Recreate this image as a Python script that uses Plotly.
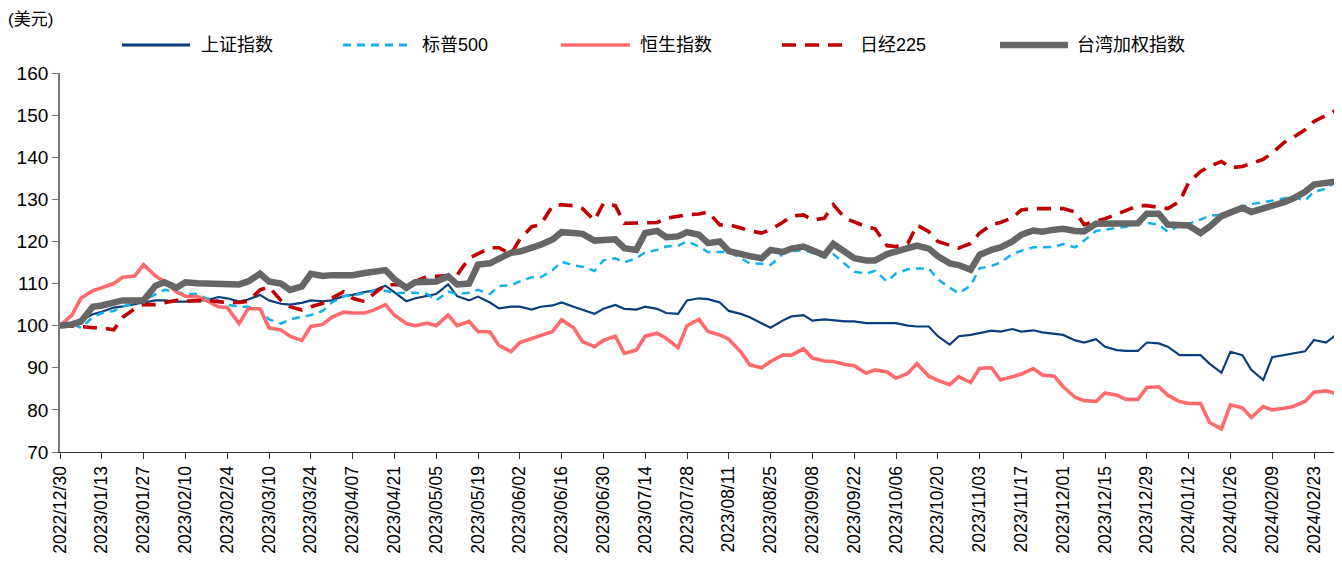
import pandas as pd
import plotly.graph_objects as go

# ---------------- data (semi-weekly samples: Fridays and the following Tuesdays) ----------------
start = pd.Timestamp("2022-12-30")
dates = []
for k in range(62):
    f = start + pd.Timedelta(days=7 * k)
    dates.append(f)
    if k < 61:
        dates.append(f + pd.Timedelta(days=4))

shanghai = [
    100, 100.5, 101.3, 102.7, 103.3, 104.3, 104.6, 105.2, 105.5, 106,
    106, 105.7, 105.7, 106, 106, 106.8, 106.5, 105.7, 106.2, 107.3,
    106, 105.2, 105, 105.4, 106, 105.8, 106, 107, 107.3, 108,
    108.3, 109.5, 108, 105.8, 106.5, 107, 107.5, 109.8, 107, 106,
    106.9, 105.5, 104.1, 104.5, 104.5, 103.8, 104.5, 104.8, 105.5, 104.5,
    103.7, 102.8, 104, 104.9, 104, 103.8, 104.5, 104, 103, 102.8,
    106, 106.5, 106.3, 105.5, 103.5, 102.8, 102, 100.5, 99.5, 101.2,
    102.2, 102.5, 101.2, 101.5, 101.3, 101, 101, 100.6, 100.6, 100.6,
    100.6, 100, 99.8, 99.8, 97.5, 95.5, 97.5, 97.8, 98.2, 98.8,
    98.6, 99.2, 98.6, 98.9, 98.4, 98, 97.8, 96.5, 96, 96.8,
    95, 94.2, 94, 94, 96, 95.8, 95, 93, 93, 93,
    91, 88.8, 93.8, 93, 89.5, 87.1, 92.5, 93, 93.4, 93.9,
    96.6, 96, 97.6,
]

sp500 = [
    100, 100.5, 99.5, 102, 103, 103.5, 104.5, 105.5, 106, 107.5,
    108.5, 108, 107.5, 107.5, 106.5, 106, 105, 104.5, 104.5, 104,
    101.5, 100.5, 101.5, 102.1, 102.5, 103.5, 105.5, 107, 107.2, 107.7,
    108.2, 108.3, 107.7, 107.8, 107.8, 107.5, 106, 108.1, 107.5, 107.8,
    108.5, 107.5, 109.4, 109.6, 110.5, 111.5, 111.5, 113.2, 115.2, 114.3,
    114, 113, 115.5, 116, 115, 116, 117.4, 118, 118.8, 119,
    120, 118.8, 117.5, 117.5, 117.5, 116, 114.8, 114.7, 114.4, 117,
    117.6, 118, 117.3, 116.2, 117, 114.5, 112.8, 112.4, 113, 110.5,
    112.4, 113.4, 113.6, 113.6, 111, 109, 107.7, 109.5, 113.6, 114.2,
    115, 117, 117.8, 118.6, 118.6, 118.7, 119.4, 118.6, 120.2, 122.5,
    122.8, 123.2, 123.5, 124.2, 124.4, 124, 122.3, 123.8, 124.2, 125.2,
    126.1, 126.3, 127.3, 128.3, 128.9, 129.3, 129.7, 130.3, 130.6, 129.7,
    131.8, 132.5, 134,
]

hangseng = [
    100, 102.5, 106.5, 108.3, 109, 110, 111.5, 111.8, 114.5, 111.8,
    110.5, 108, 107, 106.9, 106, 104.5, 104.3, 100.5, 104, 104,
    99.5, 99, 97.5, 96.5, 99.8, 100.3, 102, 103.2, 103, 103,
    103.7, 105, 102.5, 100.5, 100, 100.6, 100, 102.5, 100, 101,
    98.6, 98.5, 95.3, 93.8, 96, 97, 97.8, 98.6, 101.4, 99.5,
    96.2, 95, 96.5, 97.5, 93.4, 94.2, 97.5, 98.2, 97, 94.8,
    100, 101.5, 98.6, 97.8, 96.8, 93.8, 90.7, 90, 91.5, 93,
    93, 94.5, 92.3, 91.6, 91.5, 90.8, 90.5, 88.7, 89.5, 89,
    87.5, 88.7, 91, 88, 87, 86, 87.9, 86.5, 89.9, 90,
    87.1, 87.8, 88.5, 89.8, 88.3, 88, 85.5, 83, 82.2, 82,
    84, 83.5, 82.5, 82.5, 85.3, 85.5, 83.5, 82, 81.5, 81.5,
    77, 75.5, 81.2, 80.5, 78.2, 80.8, 80, 80.4, 80.8, 82,
    84.2, 84.5, 84,
]

nikkei = [
    100, 100, 99.8, 99.5, 99.5, 99, 102, 104, 105, 105,
    105.5, 106, 105.8, 106, 106, 105.7, 105.5, 105.5, 105.8, 108.5,
    109.2, 106, 104.5, 103.7, 104.5, 105.3, 106.5, 108.1, 106.5, 105.7,
    107.5, 109.7, 109.7, 109.7, 110.5, 111.7, 111.7, 111.8, 112, 116,
    117, 118.5, 118.5, 117, 120.5, 123.5, 124, 128.5, 128.7, 128.5,
    127.8, 125, 129, 128.5, 124.3, 124.3, 124.3, 124.5, 125.5, 126,
    126.3, 126.5, 127, 123.9, 124, 123.2, 122.5, 122, 122.8, 124.5,
    126, 126.3, 125.1, 125.5, 128.7, 125.5, 124.7, 123.5, 123, 119,
    118.8, 119.5, 123.9, 122.3, 120, 119.2, 118.4, 119.5, 122, 124,
    124.5, 125.6, 127.5, 127.8, 127.8, 127.8, 127.8, 127, 124, 124.8,
    125.4, 126.5, 127.3, 128.5, 128.5, 128, 127.8, 129.5, 134, 136.6,
    137.8, 139, 137.5, 137.8, 138.5, 139.5, 141, 143.5, 144.7, 146.5,
    148.5, 150, 151,
]

taiwan = [
    100, 100.3, 101, 104.5, 104.8, 105.7, 106, 106, 106, 109.5,
    110.3, 109, 110.3, 110.1, 110, 110, 109.8, 109.8, 110.5, 112.3,
    110.5, 110, 108.5, 109.3, 112.3, 111.8, 112, 112, 112, 112.5,
    112.8, 113.2, 111, 109, 110.3, 110.5, 110.5, 111.7, 109.8, 110,
    114.5, 114.8, 116, 117.3, 117.6, 118.5, 119.2, 120.5, 122.2, 122,
    121.8, 120.2, 120.3, 120.5, 118.4, 118, 122, 122.5, 121, 121.2,
    122.2, 121.6, 119.6, 120, 117.7, 116.8, 116.5, 116, 118, 117.5,
    118.3, 118.8, 118, 116.7, 119.4, 117.6, 116, 115.5, 115.5, 117,
    117.6, 118.5, 119, 118.3, 116.5, 114.8, 114.4, 113.3, 116.8, 118,
    118.6, 120, 121.6, 122.6, 122.3, 122.8, 123, 122.5, 122.4, 124.2,
    124.3, 124.2, 124.2, 124.3, 126.6, 126.6, 124, 124, 123.8, 122,
    123.5, 126, 127, 128, 127, 127.8, 128.1, 129.3, 130.2, 131.8,
    133.5, 133.7, 134.2,
]

series_names = ["上证指数", "标普500", "恒生指数", "日经225", "台湾加权指数"]
series_values = [shanghai, sp500, hangseng, nikkei, taiwan]

# ---------------- styles ----------------
styles = [
    dict(color="#0B3C7D", width=2.2, dash="solid"),
    dict(color="#12B0EC", width=2.5, dash="8px,6px"),
    dict(color="#FF6B6B", width=3.6, dash="solid"),
    dict(color="#C00000", width=3.6, dash="14px,9px"),
    dict(color="#666666", width=6.5, dash="solid"),
]

# page is rendered with an 8px body margin, so the figure is sized/offset to compensate
OFF = 8
PAGE_W, PAGE_H = 1342, 561
PL, PR, PT, PB = 60, 1340, 73, 452          # plot-area edges in page pixels
W, H = PAGE_W - OFF, PAGE_H - OFF
L, R, T, B = PL - OFF, PAGE_W - PR, PT - OFF, PAGE_H - PB
PW, PH = PR - PL, PB - PT


def px_x(p):
    return (p - PL) / PW


def px_y(p):
    return (PB - p) / PH


fig = go.Figure()
for name, vals, st in zip(series_names, series_values, styles):
    fig.add_trace(go.Scatter(
        x=dates, y=vals, mode="lines", name=name,
        line=dict(color=st["color"], width=st["width"], dash=st["dash"]),
        showlegend=False,
    ))

# manual legend (long line samples as in the reference)
legend_pos = [(122, 190, 199), (343, 410, 420), (561, 630, 638), (782, 850, 858), (1000, 1068, 1075)]
shapes = []
annotations = []
ly = px_y(45)
for name, st, (x0, x1, tx) in zip(series_names, styles, legend_pos):
    shapes.append(dict(type="line", xref="paper", yref="paper",
                       x0=px_x(x0), x1=px_x(x1), y0=ly, y1=ly,
                       line=dict(color=st["color"], width=max(st["width"], 3), dash=st["dash"])))
    annotations.append(dict(text=name, xref="paper", yref="paper", x=px_x(tx), y=ly,
                            xanchor="left", yanchor="middle", showarrow=False,
                            font=dict(size=18, color="#000000",
                                      family="Liberation Sans, Noto Sans CJK SC, sans-serif")))

annotations.append(dict(text="(美元)", xref="paper", yref="paper", x=px_x(6), y=px_y(20),
                        xanchor="left", yanchor="middle", showarrow=False,
                        font=dict(size=17, color="#000000",
                                  family="Liberation Sans, Noto Sans CJK SC, sans-serif")))

x_tick_font = dict(family="Liberation Sans, Arial, sans-serif", size=17.5, color="#000000")
y_tick_font = dict(family="Liberation Sans, Arial, sans-serif", size=19, color="#000000")

fig.update_layout(
    width=W, height=H,
    margin=dict(l=L, r=R, t=T, b=B),
    paper_bgcolor="white", plot_bgcolor="white",
    shapes=shapes, annotations=annotations,
    showlegend=False,
)
fig.update_xaxes(
    type="date",
    range=["2022-12-30", "2024-03-02 17:00"],
    tick0="2022-12-30", dtick=14 * 86400000,
    tickformat="%Y/%m/%d", tickangle=-90,
    ticks="outside", ticklen=6, tickcolor="#333333",
    showline=True, linecolor="#333333", linewidth=1.2,
    showgrid=False, zeroline=False,
    tickfont=x_tick_font,
)
fig.update_yaxes(
    range=[70, 160], dtick=10, tick0=70,
    ticks="outside", ticklen=6, tickcolor="#777777",
    showline=True, linecolor="#777777", linewidth=1.8,
    showgrid=False, zeroline=False,
    tickfont=y_tick_font,
)

fig.write_html("out.html")
